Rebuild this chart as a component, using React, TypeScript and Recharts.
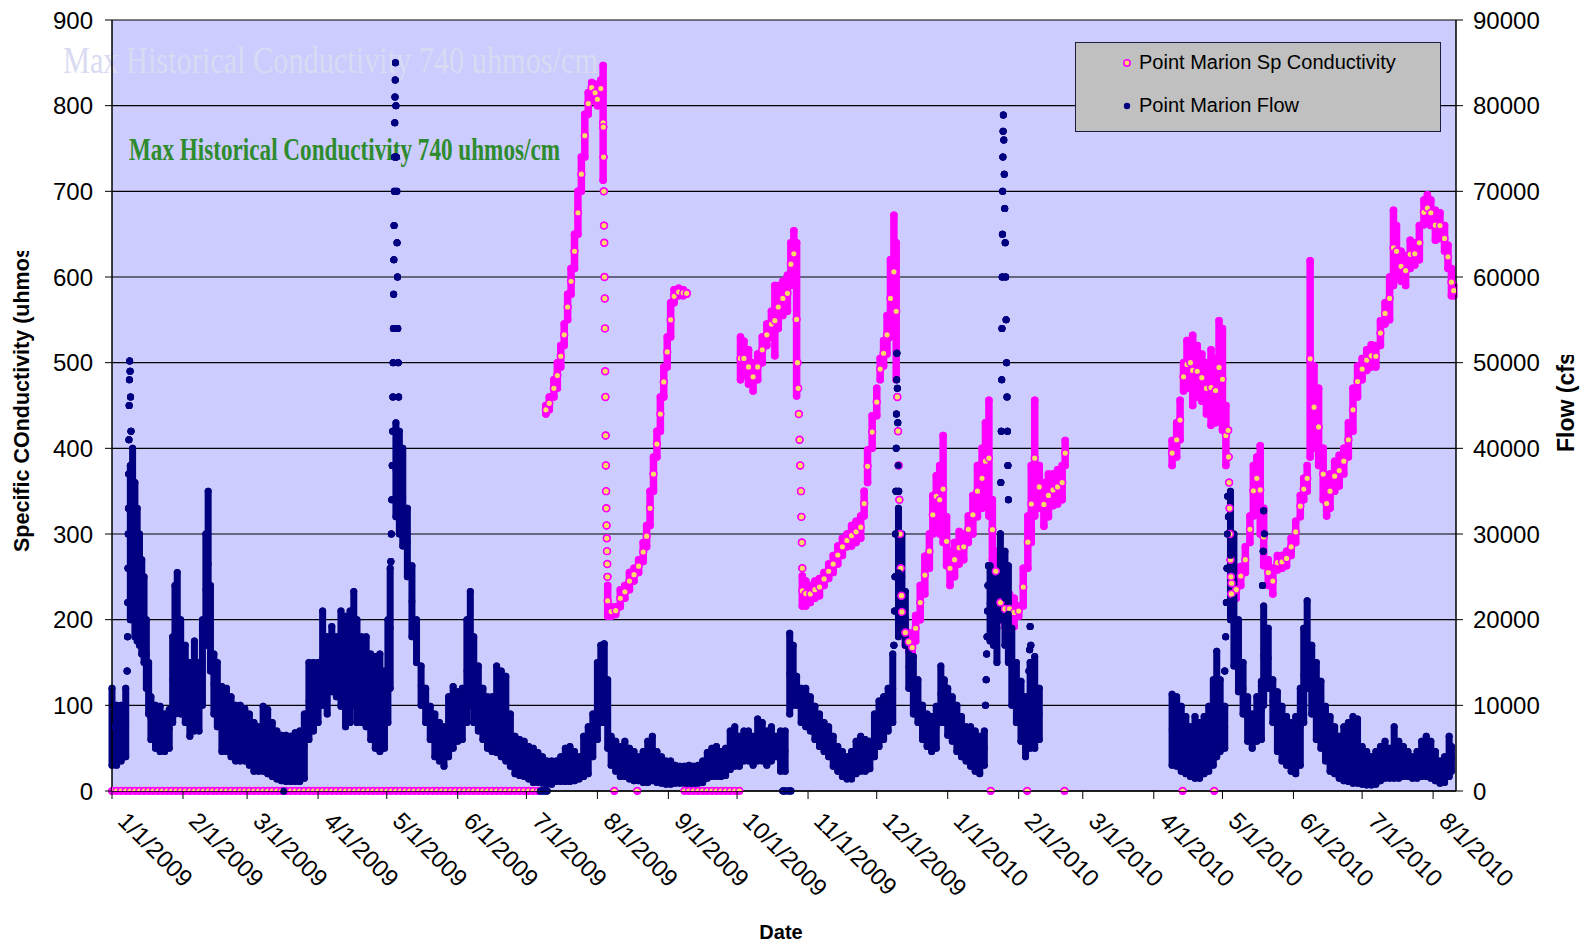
import { ScatterChart, Scatter, XAxis, YAxis, CartesianGrid, ErrorBar } from "recharts";

// x values are days counted from 1/1/2009
const tickDays = [0, 31, 59, 90, 120, 151, 181, 212, 243, 273, 304, 334, 365, 396, 424, 455, 485, 516, 546, 577];
const tickLabels = [
  "1/1/2009", "2/1/2009", "3/1/2009", "4/1/2009", "5/1/2009", "6/1/2009", "7/1/2009",
  "8/1/2009", "9/1/2009", "10/1/2009", "11/1/2009", "12/1/2009", "1/1/2010", "2/1/2010",
  "3/1/2010", "4/1/2010", "5/1/2010", "6/1/2010", "7/1/2010", "8/1/2010",
];
const condTicks = [0, 100, 200, 300, 400, 500, 600, 700, 800, 900];
const flowTicks = [0, 10000, 20000, 30000, 40000, 50000, 60000, 70000, 80000, 90000];

// flow readings: [day, low cfs, high cfs] spread of the readings around that day
const flowRanges: [number, number, number][] = [
  [0, 3000, 12000], [2, 3000, 10000], [4, 3500, 10000], [6, 4000, 12000], [8, 20000, 38000],
  [9, 20000, 40000], [10, 18000, 36000], [11, 17500, 33000], [12, 17000, 30000], [13, 16000, 27000],
  [14, 15000, 25000], [15, 12000, 20000], [16, 9000, 15000], [17, 6000, 11000], [19, 5000, 10000],
  [21, 4600, 9900], [23, 4600, 9000], [25, 5000, 9500], [26.5, 8000, 18000], [27.5, 9000, 24000],
  [28.5, 10000, 25500], [30, 9000, 20000], [32, 8000, 17000], [34, 6400, 15000], [36, 7000, 17500],
  [38, 7000, 15000], [39.5, 10000, 20000], [41, 17000, 30000], [42, 18000, 35000], [43, 14000, 24000],
  [44.5, 9000, 16000], [46, 7500, 15000], [48, 4600, 12200], [50, 4600, 12000], [52, 4000, 11000],
  [54, 3500, 10000], [56, 3500, 10000], [58, 3500, 9600], [60, 3000, 9000], [62, 2300, 8000],
  [64, 2300, 7500], [66, 2300, 9900], [68, 2000, 9500], [70, 1700, 8000], [72, 1400, 7000],
  [74, 1200, 6500], [76, 1100, 6500], [78, 1100, 6400], [80, 1100, 6800], [82, 1100, 7000],
  [84, 1500, 9000], [86, 6000, 15000], [88, 7000, 15000], [90, 8000, 15000], [92, 10000, 21000],
  [94, 9000, 18000], [96, 11600, 19200], [98, 11000, 18000], [100, 9900, 21000], [102, 7500, 20400],
  [104, 8000, 21000], [105.6, 10000, 23300], [107, 8000, 20000], [109, 8000, 18000], [111, 7500, 18000],
  [113, 6000, 16000], [115, 5000, 15700], [117, 4600, 16000], [119, 5000, 14000], [120.5, 8000, 20000],
  [121.5, 12000, 26000], [124, 32000, 43000], [125.5, 30000, 42000], [127, 28600, 40000], [129, 25000, 33000],
  [131, 18000, 26300], [133, 15000, 20000], [135, 10000, 14600], [137, 8000, 12000], [139, 6000, 9900],
  [141, 4000, 9000], [143, 3500, 8000], [145, 2900, 7500], [147, 4000, 11000], [149, 5000, 12200],
  [151, 5800, 11600], [153, 6000, 12000], [155, 8000, 20000], [156.5, 10000, 23300], [158, 8000, 18000],
  [160, 7000, 14600], [162, 6000, 12000], [164, 5000, 11000], [166, 4600, 11000], [168, 4500, 14600],
  [170, 4000, 14000], [172, 3500, 13400], [174, 2900, 9000], [176, 2000, 6400], [178, 1800, 6000],
  [180, 1700, 5800], [182, 1400, 5200], [184, 1000, 5000], [186, 1000, 4500], [188, 900, 4000],
  [190, 800, 3500], [192, 800, 3500], [194, 1100, 3500], [196, 1100, 4000], [198, 1100, 5000],
  [200, 1100, 5200], [202, 1200, 4600], [204, 1400, 4000], [206, 1700, 6400], [208, 2000, 7500],
  [210, 4000, 9000], [212, 6000, 15000], [213.5, 8000, 17000], [215, 8000, 17200], [216.5, 5000, 13000],
  [218, 3000, 6400], [220, 2300, 5800], [222, 1700, 5200], [224, 1700, 5800], [226, 1400, 5000],
  [228, 1200, 4600], [230, 1200, 4000], [232, 1000, 4600], [234, 1000, 5800], [236, 1200, 6400],
  [238, 1000, 4600], [240, 900, 4000], [242, 800, 3500], [244, 800, 3500], [246, 900, 3000],
  [248, 900, 2900], [250, 900, 2900], [252, 800, 3000], [254, 800, 2900], [256, 900, 3000],
  [258, 1000, 3500], [260, 1500, 4500], [262, 1700, 5000], [264, 1700, 5200], [266, 1700, 4600],
  [268, 1800, 5000], [270, 2500, 7000], [272, 2900, 7500], [274, 2900, 6400], [276, 3500, 7000],
  [278, 3500, 7000], [280, 3000, 6400], [282, 3500, 8400], [284, 3500, 8000], [286, 3000, 7000],
  [288, 3500, 7500], [290, 4000, 6400], [292, 2300, 7000], [294, 2300, 7000], [296, 9000, 18400],
  [297.5, 10000, 17000], [299, 10000, 13400], [301, 8000, 12000], [303, 7500, 12000], [305, 7000, 11000],
  [307, 6000, 9900], [309, 5200, 9000], [311, 4600, 8000], [313, 4000, 7500], [315, 2900, 6400],
  [317, 2300, 5200], [319, 1700, 4600], [321, 1400, 4000], [323, 1400, 4600], [325, 2000, 5800],
  [327, 2300, 6400], [329, 2300, 6000], [331, 2600, 5800], [333, 4000, 9000], [335, 5200, 10500],
  [337, 6000, 11000], [339, 7000, 12000], [341, 8000, 16000], [343.5, 18000, 33000], [345, 20000, 30000],
  [346.5, 17000, 23300], [348, 12000, 17000], [350, 9000, 15700], [352, 8000, 13000], [354, 6000, 10000],
  [356, 5200, 9000], [358, 4600, 8700], [360, 5000, 9900], [362, 8000, 14600], [363.5, 8000, 13000],
  [365, 6500, 12000], [367, 5800, 11000], [369, 4600, 10000], [371, 4000, 8700], [373, 3500, 7500],
  [375, 2900, 7500], [377, 2300, 7000], [379, 2000, 6400], [381, 3000, 7000], [383.5, 17500, 26300],
  [385, 17000, 25000], [386.5, 15000, 23000], [388, 20000, 30000], [390, 17000, 28000], [391.5, 15000, 26300],
  [393, 10000, 19000], [395, 8000, 15000], [397, 5800, 12800], [399, 4000, 11000], [401, 5000, 15000],
  [403, 5000, 15700], [405, 6000, 12000],
  [463, 3000, 11300], [465, 2900, 11000], [467, 2300, 9900], [469, 2000, 8700], [471, 1700, 7500],
  [473, 1500, 8700], [475, 1500, 8000], [477, 2000, 8700], [479, 2300, 9900], [481, 3000, 13000],
  [482.5, 4000, 16300], [484, 4600, 13000], [486, 5000, 9900], [488.5, 20000, 35000], [490, 14600, 30000],
  [492, 11600, 20000], [494, 9000, 15000], [496, 5800, 11000], [498, 5000, 9000], [500, 5800, 11000],
  [502, 6000, 12800], [503, 10000, 21600], [505, 12000, 19000], [507, 8000, 13000], [509, 4600, 11600],
  [511, 3500, 9900], [513, 3000, 8700], [515, 2300, 8000], [517, 2000, 8700], [519, 3000, 12000],
  [520.5, 8000, 19000], [522, 12000, 22200], [524, 9000, 17000], [526, 6000, 15000], [528, 5000, 12800],
  [530, 3500, 9900], [532, 2300, 8700], [534, 2000, 7500], [536, 1500, 6400], [538, 1200, 7500],
  [540, 1100, 8000], [542, 900, 8700], [544, 900, 8400], [546, 800, 5200], [548, 700, 4600],
  [550, 700, 4000], [552, 800, 4600], [554, 1200, 5200], [556, 1500, 5800], [558, 1500, 5000],
  [560, 1500, 7500], [562, 1500, 5800], [564, 1700, 5200], [566, 1700, 4600], [568, 1500, 4000],
  [570, 1500, 4600], [572, 1700, 5800], [574, 1700, 6400], [576, 1500, 5800], [578, 1200, 4600],
  [580, 900, 3500], [582, 1000, 4000], [584, 1700, 6400], [585, 2300, 5200],
];

// single flow readings (storm spikes and zero readings): [day, cfs]
const flowDots: [number, number][] = [
  [6.6, 14000], [6.8, 18000], [6.9, 22000], [7.0, 26000], [7.1, 30000], [7.2, 33000], [7.3, 37000],
  [7.4, 41000], [7.5, 45000], [7.6, 48000], [7.7, 50200], [7.9, 49000], [8.1, 46000], [8.3, 42000],
  [121.8, 26800], [122.0, 30000], [122.2, 34000], [122.4, 38000], [122.6, 42000], [122.7, 46000],
  [122.8, 50000], [122.9, 54000], [123.0, 58000], [123.1, 62000], [123.2, 66000], [123.3, 70000],
  [123.4, 74000], [123.5, 78000], [123.6, 81000], [123.7, 83000], [123.8, 85000], [124.0, 80000],
  [124.2, 74000], [124.4, 70000], [124.5, 64000], [124.7, 60000], [124.8, 54000], [125.0, 50000],
  [125.2, 46000],
  [341.5, 17000], [341.8, 21000], [342.0, 25000], [342.2, 30000], [342.4, 35000], [342.5, 40000],
  [342.6, 44000], [342.7, 48000], [342.8, 51100], [343.0, 47000], [343.2, 43000], [343.4, 38000],
  [343.6, 35000],
  [381.5, 10000], [381.8, 13000], [382.0, 16000], [382.2, 18000], [382.4, 21000], [382.6, 24000],
  [382.8, 26300], [388.0, 30000], [388.2, 36000], [388.4, 42000], [388.6, 48000], [388.7, 54000],
  [388.8, 60000], [388.9, 65000], [389.0, 70000], [389.1, 74000], [389.2, 77000], [389.3, 78900],
  [389.5, 76000], [389.7, 72000], [389.9, 68000], [390.1, 64000], [390.3, 60000], [390.5, 55000],
  [390.7, 50000], [390.9, 46000], [391.1, 42000], [391.3, 38000], [391.5, 34000],
  [400.5, 14000], [400.8, 16500], [401.0, 19200], [401.3, 17000],
  [486.0, 14000], [486.4, 18000], [486.7, 22000], [487.0, 26000], [487.2, 30000], [487.3, 34400], [487.6, 32000],
  [502.5, 24000], [502.8, 28000], [503.0, 32700], [503.3, 30000],
  [75, 0], [187, 0], [188, 0], [189, 0], [190, 0], [293, 0], [294, 0], [295.5, 0], [296.5, 0],
];

// conductivity readings: [day, low, high] uhmos/cm
const condRanges: [number, number, number][] = [
  [189.5, 440, 450], [191, 445, 460], [193, 460, 480], [194.5, 470, 500], [196, 495, 520],
  [197.5, 520, 545], [199, 550, 580], [200.5, 580, 610], [202, 610, 650], [203.5, 650, 700],
  [205, 700, 740], [206.5, 740, 790], [208, 790, 815], [209.5, 815, 827], [211, 805, 825],
  [212, 800, 815], [213.5, 810, 830], [214.5, 713, 847], [216.5, 204, 240], [218, 204, 215],
  [220, 206, 215], [222, 215, 235], [224, 225, 240], [226, 235, 255], [228, 245, 260],
  [230, 255, 270], [232, 268, 290], [233.5, 285, 310], [235, 310, 350], [236.5, 350, 390],
  [238, 390, 420], [239.5, 420, 460], [241, 460, 495], [242.5, 495, 530], [244, 530, 570],
  [245.5, 570, 585], [247.5, 578, 587], [249.5, 578, 585], [251, 580, 582],
  [274.5, 480, 530], [276, 485, 525], [278, 475, 515], [280, 467, 500], [282, 480, 510],
  [284, 500, 530], [286, 520, 545], [288, 530, 560], [289.5, 508, 590], [291, 540, 590],
  [293, 555, 595], [295, 560, 602], [296.5, 590, 640], [297.8, 600, 654], [299, 461, 640],
  [301.5, 216, 251], [303, 216, 245], [305, 220, 240], [307, 225, 245], [309, 228, 248],
  [311, 240, 255], [313, 248, 265], [315, 255, 275], [317, 265, 286], [319, 275, 295],
  [321, 285, 300], [323, 286, 310], [325, 290, 315], [327, 295, 321], [328.5, 321, 350],
  [330, 360, 398], [332, 400, 438], [334, 438, 470], [335.5, 480, 505], [337, 496, 526],
  [338.5, 510, 555], [340, 530, 620], [341.5, 540, 672], [342.5, 480, 640], [345, 190, 228],
  [346.5, 170, 200], [348, 163, 185], [349.5, 160, 175], [351, 175, 205], [353, 200, 240],
  [355, 230, 274], [357, 260, 300], [358.5, 300, 345], [360, 320, 368], [361.5, 300, 380],
  [363, 290, 415], [364.5, 263, 320], [366, 240, 280], [368, 250, 290], [370, 265, 303],
  [372, 270, 300], [374, 290, 321], [376, 300, 345], [378, 320, 380], [380, 330, 400],
  [381.5, 340, 430], [383, 321, 456], [384.5, 270, 340], [386, 233, 280], [388, 200, 240],
  [390, 192, 233], [392, 195, 230], [394, 192, 225], [396, 204, 216], [398, 216, 260],
  [400, 260, 321], [401.5, 290, 380], [403, 321, 456], [405, 330, 380], [407, 309, 360],
  [409, 320, 370], [411, 333, 370], [413, 335, 375], [415, 340, 380], [416.3, 380, 409],
  [463, 380, 409], [465, 390, 430], [466.5, 410, 456], [468, 467, 500], [469.5, 470, 526],
  [471, 480, 520], [472, 450, 532], [474, 460, 520], [476, 455, 510], [478, 440, 500],
  [480, 427, 515], [482, 430, 505], [483.5, 440, 549], [485, 421, 540], [486.5, 380, 450],
  [489, 222, 263], [491, 225, 245], [493, 240, 262], [495, 255, 285], [497, 290, 321],
  [498.5, 321, 380], [500, 340, 390], [501.5, 300, 403], [503, 263, 330], [505, 240, 270],
  [507, 230, 260], [509, 258, 275], [511, 260, 275], [513, 263, 280], [515, 275, 295],
  [517, 290, 315], [519, 320, 345], [520.5, 340, 365], [522, 350, 380], [523.3, 390, 619],
  [525, 400, 496], [527, 380, 470], [529, 340, 400], [530.5, 321, 350], [532, 330, 370],
  [534, 350, 385], [536, 356, 392], [538, 370, 400], [540, 390, 430], [542, 420, 470],
  [544, 460, 496], [546, 480, 505], [548, 491, 515], [550, 495, 521], [552, 495, 520],
  [554, 520, 549], [556, 545, 570], [558, 550, 600], [559.7, 590, 678], [561, 600, 660],
  [563, 595, 630], [565, 590, 625], [567, 610, 643], [569, 614, 640], [571, 620, 660],
  [573, 661, 690], [574.5, 665, 696], [576, 660, 690], [578, 643, 678], [580, 645, 675],
  [582, 630, 660], [583.5, 610, 637], [585, 578, 610], [586, 578, 590],
];

// single conductivity readings during the fast drops: [day, uhmos/cm]
const condDots: [number, number][] = [
  [214.6, 775], [214.7, 740], [214.8, 700], [214.9, 660], [215.0, 640], [215.1, 600], [215.2, 575],
  [215.3, 540], [215.4, 490], [215.5, 460], [215.6, 415], [215.7, 380], [215.8, 350], [215.9, 330],
  [216.0, 310], [216.1, 295], [216.2, 280], [216.3, 265], [216.4, 250],
  [299.4, 500], [299.7, 470], [300.0, 440], [300.3, 410], [300.6, 380], [300.9, 350], [301.1, 320],
  [301.3, 290], [301.5, 260],
  [343.0, 460], [343.3, 420], [343.6, 380], [343.9, 340], [344.2, 300], [344.5, 260], [344.8, 228],
  [487.5, 421], [487.7, 390], [487.9, 360], [488.1, 330], [488.3, 300], [488.5, 270], [488.7, 250],
  [488.9, 230],
];

// days with a zero conductivity reading
const condZeroDays = [
  0, 2, 4, 6, 8, 10, 12, 14, 16, 18, 20, 22, 24, 26, 28, 30, 32, 34, 36, 38, 40, 42, 44, 46, 48,
  50, 52, 54, 56, 58, 60, 62, 64, 66, 68, 70, 72, 74, 76, 78, 80, 82, 84, 86, 88, 90, 92, 94, 96,
  98, 100, 102, 104, 106, 108, 110, 112, 114, 116, 118, 120, 122, 124, 126, 128, 130, 132, 134,
  136, 138, 140, 142, 144, 146, 148, 150, 152, 154, 156, 158, 160, 162, 164, 166, 168, 170, 172,
  174, 176, 178, 180, 182, 184, 186, 219.4, 229.4, 250, 252, 254, 256, 258, 260, 262, 264, 266,
  268, 270, 272, 274, 383.8, 399.7, 416, 467.6, 481.4,
];

const NAVY = "#000080";
const MAGENTA = "#FF00FF";
const RING_FILL = "#FFD966";
const FONT = "'Liberation Sans', Arial, sans-serif";

const flowData = [
  ...flowRanges.map(([d, lo, hi]) => ({ x: d, y: (lo + hi) / 2, err: [(hi - lo) / 2, (hi - lo) / 2] })),
  ...flowDots.map(([d, v]) => ({ x: d, y: v, err: [0, 0] })),
];

const condData = [
  ...condZeroDays.map((d) => ({ x: d, y: 0, err: [0, 0] })),
  ...condRanges.map(([d, lo, hi]) => ({ x: d, y: (lo + hi) / 2, err: [(hi - lo) / 2, (hi - lo) / 2] })),
  ...condDots.map(([d, v]) => ({ x: d, y: v, err: [0, 0] })),
];

const FlowDot = (props: any) => <circle cx={props.cx} cy={props.cy} r={3.4} fill={NAVY} />;

const CondRing = (props: any) => (
  <circle cx={props.cx} cy={props.cy} r={3.4} fill={RING_FILL} stroke={MAGENTA} strokeWidth={1.6} />
);

const DateTick = (props: any) => {
  const { x, y, payload } = props;
  const idx = tickDays.indexOf(payload.value);
  return (
    <text
      transform={`translate(${x + 17},${y + 9}) rotate(45)`}
      fontFamily={FONT}
      fontSize={24}
      fill="#000"
      dominantBaseline="hanging"
      textAnchor="start"
    >
      {tickLabels[idx]}
    </text>
  );
};

const App = () => {
  return (
    <div style={{ position: "fixed", left: 0, top: 0, width: 1588, height: 945, background: "#fff" }}>
      {/* plot area background */}
      <div style={{ position: "absolute", left: 112, top: 20, width: 1344, height: 771, background: "#CCCCFF" }} />

      {/* text painted on the plot area, behind the data */}
      <svg width={1588} height={945} style={{ position: "absolute", left: 0, top: 0 }}>
        <text
          x={63}
          y={73}
          fontFamily="'Liberation Serif', 'Times New Roman', serif"
          fontSize={37}
          fill="#d9dbf2"
          textLength={535}
          lengthAdjust="spacingAndGlyphs"
        >
          Max Historical Conductivity 740 uhmos/cm
        </text>
        <text
          x={129}
          y={160}
          fontFamily="'Liberation Serif', 'Times New Roman', serif"
          fontWeight="bold"
          fontSize={31}
          fill="#2E8B2E"
          textLength={431}
          lengthAdjust="spacingAndGlyphs"
        >
          Max Historical Conductivity 740 uhmos/cm
        </text>
      </svg>

      <div style={{ position: "absolute", left: 0, top: 0 }}>
        <ScatterChart width={1588} height={945} margin={{ top: 20, right: 0, bottom: 0, left: 0 }}>
          <CartesianGrid yAxisId="cond" vertical={false} stroke="#000" strokeWidth={1.2} />
          <XAxis
            type="number"
            dataKey="x"
            domain={[0, 587]}
            ticks={tickDays}
            interval={0}
            height={154}
            tickSize={8}
            tickMargin={2}
            tick={<DateTick />}
            axisLine={{ stroke: "#000", strokeWidth: 1.5 }}
            tickLine={{ stroke: "#000" }}
            allowDataOverflow
          />
          <YAxis
            yAxisId="cond"
            type="number"
            dataKey="y"
            domain={[0, 900]}
            ticks={condTicks}
            interval={0}
            width={112}
            tickSize={7}
            tickMargin={12}
            tick={{ fontFamily: FONT, fontSize: 24, fill: "#000" }}
            axisLine={{ stroke: "#000", strokeWidth: 1.5 }}
            tickLine={{ stroke: "#000" }}
            allowDataOverflow
          />
          <YAxis
            yAxisId="flow"
            orientation="right"
            type="number"
            dataKey="y"
            domain={[0, 90000]}
            ticks={flowTicks}
            interval={0}
            width={132}
            tickSize={7}
            tickMargin={10}
            tick={{ fontFamily: FONT, fontSize: 24, fill: "#000" }}
            axisLine={{ stroke: "#000", strokeWidth: 1.5 }}
            tickLine={{ stroke: "#000" }}
            allowDataOverflow
          />
          <Scatter
            name="Point Marion Sp Conductivity"
            yAxisId="cond"
            data={condData}
            shape={<CondRing />}
            isAnimationActive={false}
          >
            <ErrorBar
              dataKey="err"
              direction="y"
              width={0}
              stroke={MAGENTA}
              strokeWidth={7.5}
              strokeLinecap="round"
              isAnimationActive={false}
            />
          </Scatter>
          <Scatter
            name="Point Marion Flow"
            yAxisId="flow"
            data={flowData}
            shape={<FlowDot />}
            isAnimationActive={false}
          >
            <ErrorBar
              dataKey="err"
              direction="y"
              width={0}
              stroke={NAVY}
              strokeWidth={7}
              strokeLinecap="round"
              isAnimationActive={false}
            />
          </Scatter>
        </ScatterChart>
      </div>

      {/* axis titles */}
      <svg width={1588} height={945} style={{ position: "absolute", left: 0, top: 0, pointerEvents: "none" }}>
        <defs>
          <clipPath id="leftTitleClip">
            <rect x={0} y={251} width={60} height={320} />
          </clipPath>
          <clipPath id="rightTitleClip">
            <rect x={1540} y={355} width={48} height={120} />
          </clipPath>
        </defs>
        <g clipPath="url(#leftTitleClip)">
          <text
            transform="translate(29,552) rotate(-90)"
            fontFamily={FONT}
            fontWeight="bold"
            fontSize={21.5}
            fill="#000"
          >
            Specific COnductivity (uhmos/cm)
          </text>
        </g>
        <g clipPath="url(#rightTitleClip)">
          <text
            transform="translate(1574,452) rotate(-90)"
            fontFamily={FONT}
            fontWeight="bold"
            fontSize={23}
            fill="#000"
          >
            Flow (cfs)
          </text>
        </g>
        <text x={781} y={939} textAnchor="middle" fontFamily={FONT} fontWeight="bold" fontSize={20} fill="#000">
          Date
        </text>
      </svg>

      {/* legend */}
      <div
        style={{
          position: "absolute",
          left: 1075,
          top: 42,
          width: 366,
          height: 90,
          boxSizing: "border-box",
          background: "#C0C0C0",
          border: "1.5px solid #1c1c3c",
          fontFamily: FONT,
          fontSize: 20,
          color: "#000",
        }}
      >
        <svg width={20} height={90} style={{ position: "absolute", left: 41, top: 0 }}>
          <circle cx={10} cy={20} r={3.2} fill={RING_FILL} stroke={MAGENTA} strokeWidth={1.6} />
          <circle cx={10} cy={63} r={3.2} fill={NAVY} />
        </svg>
        <div style={{ position: "absolute", left: 63, top: 8, whiteSpace: "nowrap" }}>Point Marion Sp Conductivity</div>
        <div style={{ position: "absolute", left: 63, top: 51, whiteSpace: "nowrap" }}>Point Marion Flow</div>
      </div>
    </div>
  );
};

export default App;
